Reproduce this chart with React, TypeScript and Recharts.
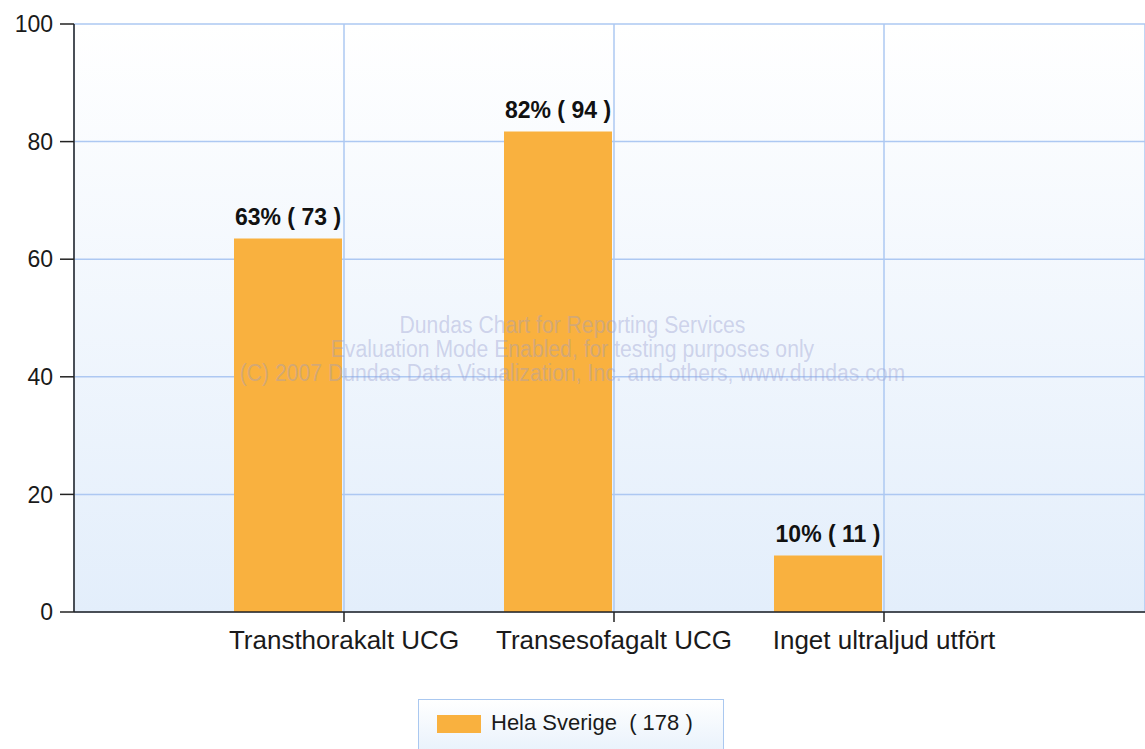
import React from 'react';
import { BarChart, Bar, XAxis, YAxis, CartesianGrid, LabelList } from 'recharts';

// values
const categories = ['Transthorakalt UCG', 'Transesofagalt UCG', 'Inget ultraljud utfört'];
const shares = [63.5, 81.7, 9.6];
const pctLabels = [63, 82, 10];
const counts = [73, 94, 11];
const yTicks = [0, 20, 40, 60, 80, 100];
const seriesName = 'Hela Sverige';
const seriesTotal = 178;

const BAR = '#F9B13F';
const GRID = '#ADC8F2';
const FONT = '"Liberation Sans", Arial, sans-serif';

const data = categories.map((name, i) => ({
  name,
  value: shares[i],
  label: `${pctLabels[i]}% ( ${counts[i]} )`,
  empty: null,
}));

const App: React.FC = () => {
  return (
    <div style={{ position: 'absolute', left: 0, top: 0, width: 1145, height: 749, background: '#fff', fontFamily: FONT, overflow: 'hidden' }}>
      <BarChart width={1145} height={749} data={data} margin={{ top: 24, right: 0, left: 0, bottom: 87 }}>
        <defs>
          <linearGradient id="plotBg" x1="0" y1="0" x2="0" y2="1">
            <stop offset="0%" stopColor="#FFFFFF" />
            <stop offset="100%" stopColor="#E3EEFB" />
          </linearGradient>
        </defs>
        <CartesianGrid fill="url(#plotBg)" stroke={GRID} strokeWidth={1.5} />
        <XAxis
          dataKey="name"
          height={50}
          padding={{ left: 135, right: 126 }}
          axisLine={{ stroke: '#222', strokeWidth: 1.5 }}
          tickLine={{ stroke: '#222', strokeWidth: 1.5 }}
          tickSize={10}
          tickMargin={9}
          tick={{ fill: '#1a1a1a', fontSize: 26, fontFamily: FONT }}
          interval={0}
        />
        <YAxis
          width={74}
          domain={[0, 100]}
          ticks={yTicks}
          axisLine={{ stroke: '#222', strokeWidth: 1.5 }}
          tickLine={{ stroke: '#222', strokeWidth: 1.5 }}
          tickSize={14}
          tickMargin={7}
          tick={{ fill: '#1a1a1a', fontSize: 23, fontFamily: FONT }}
        />
        <Bar dataKey="value" name={seriesName} fill={BAR} barSize={108} isAnimationActive={false}>
          <LabelList
            dataKey="label"
            position="top"
            offset={14}
            style={{ fill: '#111', fontSize: 23, fontWeight: 'bold', fontFamily: FONT }}
          />
        </Bar>
        <Bar dataKey="empty" fill="none" barSize={108} isAnimationActive={false} legendType="none" />
      </BarChart>

      {/* evaluation watermark */}
      <div
        style={{
          position: 'absolute', left: 0, top: 313, width: 1145, textAlign: 'center',
          fontFamily: FONT, fontSize: 23, lineHeight: '24px',
          color: 'rgba(150, 155, 205, 0.4)', pointerEvents: 'none',
          transform: 'scaleX(0.92)', transformOrigin: '572px 0',
        }}
      >
        <div>Dundas Chart for Reporting Services</div>
        <div>Evaluation Mode Enabled, for testing purposes only</div>
        <div>(C) 2007 Dundas Data Visualization, Inc. and others, www.dundas.com</div>
      </div>

      {/* legend */}
      <div
        style={{
          position: 'absolute', left: 418, top: 699, width: 306, height: 60,
          border: '1px solid #AAC8F0', boxSizing: 'border-box',
          background: 'linear-gradient(#FFFFFF, #E6F0FB)',
        }}
      >
        <div style={{ position: 'absolute', left: 18, top: 15, width: 44, height: 18, background: BAR }} />
        <div style={{ position: 'absolute', left: 72, top: 10, fontSize: 22, color: '#1a1a1a', whiteSpace: 'pre' }}>
          {`${seriesName}  ( ${seriesTotal} )`}
        </div>
      </div>
    </div>
  );
};

export default App;
